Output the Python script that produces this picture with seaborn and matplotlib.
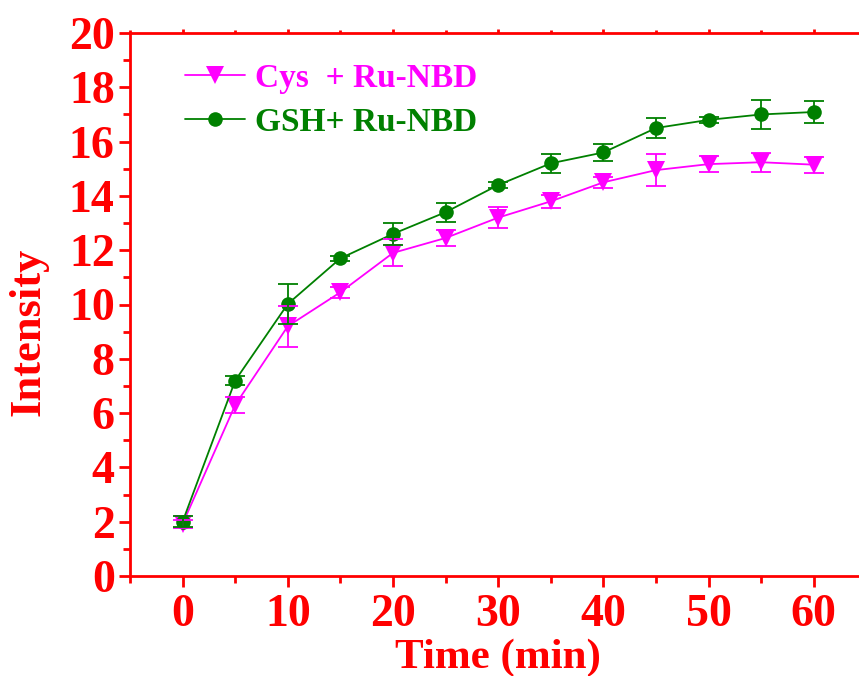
import numpy as np
import pandas as pd
import matplotlib
matplotlib.use("Agg")
import matplotlib.pyplot as plt
from matplotlib.ticker import MultipleLocator
import seaborn as sns

# Reaction time (min)
time_min = [0, 5, 10, 15, 20, 25, 30, 35, 40, 45, 50, 55, 60]

# Cys + Ru-NBD: mean intensity and error
cys_mean = [1.92, 6.3, 9.2, 10.45, 11.9, 12.45, 13.2, 13.8, 14.5, 14.95, 15.17, 15.24, 15.15]
cys_err = [0.15, 0.3, 0.75, 0.2, 0.5, 0.3, 0.4, 0.25, 0.2, 0.6, 0.3, 0.35, 0.3]

# GSH + Ru-NBD: mean intensity and error
gsh_mean = [2.0, 7.2, 10.02, 11.7, 12.6, 13.4, 14.4, 15.2, 15.6, 16.5, 16.8, 17.0, 17.09]
gsh_err = [0.2, 0.15, 0.75, 0.1, 0.4, 0.35, 0.1, 0.35, 0.3, 0.38, 0.1, 0.53, 0.4]

labels = ["Cys  + Ru-NBD", "GSH+ Ru-NBD"]
colors = ["#FF00FF", "#008000"]
markers = ["v", "o"]

df = pd.DataFrame({
    "Time": time_min * 2,
    "Intensity": cys_mean + gsh_mean,
    "Err": cys_err + gsh_err,
    "Sample": [labels[0]] * len(time_min) + [labels[1]] * len(time_min),
})

sns.set_style("ticks")
plt.rcParams["font.family"] = ["Liberation Serif", "DejaVu Serif"]
plt.rcParams["font.weight"] = "bold"

fig = plt.figure(figsize=(8.59, 6.76), dpi=100)
ax = fig.add_axes([130 / 859, 100 / 676, 736.4 / 859, 543 / 676])

sns.lineplot(
    data=df, x="Time", y="Intensity", hue="Sample", style="Sample",
    hue_order=labels, style_order=labels,
    palette=dict(zip(labels, colors)), markers=dict(zip(labels, markers)),
    dashes=False, markersize=11, markeredgewidth=0, linewidth=1.3,
    ax=ax, legend=True,
)
# slightly larger triangles than circles
for ln in ax.get_lines():
    if ln.get_marker() == "v":
        ln.set_markersize(12.5)
    elif ln.get_marker() == "o":
        ln.set_markersize(10.5)

for lab, col in zip(labels, colors):
    sub = df[df["Sample"] == lab]
    ax.errorbar(sub["Time"], sub["Intensity"], yerr=sub["Err"], fmt="none",
                ecolor=col, elinewidth=1.3, capsize=7, capthick=1.3, zorder=3)

ax.set_xlim(-5, 65)
ax.set_ylim(0, 20)
ax.xaxis.set_major_locator(MultipleLocator(10))
ax.xaxis.set_minor_locator(MultipleLocator(5))
ax.yaxis.set_major_locator(MultipleLocator(2))
ax.yaxis.set_minor_locator(MultipleLocator(1))

red = "#FF0000"
for side in ["left", "bottom", "top", "right"]:
    ax.spines[side].set_color(red)
    ax.spines[side].set_linewidth(2)

ax.tick_params(axis="both", which="major", direction="out", length=8, width=2,
               colors=red, labelsize=33, pad=3)
ax.tick_params(axis="both", which="minor", direction="out", length=5, width=2,
               colors=red)
ax.tick_params(axis="x", which="both", top=True, labeltop=False)
ax.tick_params(axis="x", which="major", pad=5)
for t in ax.xaxis.get_ticklines(minor=False)[1::2]:
    t.set_markersize(3)
for t in ax.xaxis.get_ticklines(minor=True)[1::2]:
    t.set_markersize(2)
for lbl in ax.get_xticklabels() + ax.get_yticklabels():
    lbl.set_fontweight("bold")

ax.set_xlabel("Time (min)", fontsize=31, fontweight="bold", color=red)
ax.xaxis.set_label_coords(0.5, -0.115)
ax.set_ylabel("Intensity", fontsize=32, fontweight="bold", color=red)
ax.yaxis.set_label_coords(-0.111, 0.45)

leg = ax.legend(loc="upper left", bbox_to_anchor=(0.075, 0.945), frameon=False,
                fontsize=24, handlelength=1.8, handletextpad=0.3, labelspacing=0.39,
                borderaxespad=0, borderpad=0)
for txt, col in zip(leg.get_texts(), colors):
    txt.set_color(col)
    txt.set_fontweight("bold")

fig.savefig("out.png", dpi=100)
